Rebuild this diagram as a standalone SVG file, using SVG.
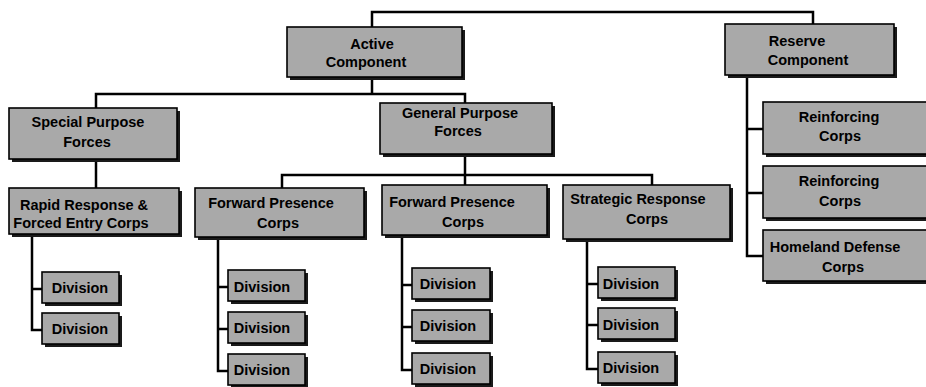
<svg xmlns="http://www.w3.org/2000/svg" width="926" height="387" viewBox="0 0 926 387">
<style>
.sh{fill:#1a1a1a}
.bx{fill:#a9a9a9;stroke:#000;stroke-width:1.6}
.t{font-family:"Liberation Sans",Arial,sans-serif;font-weight:bold;font-size:14.5px;fill:#000;text-anchor:middle}
.c{fill:none;stroke:#000;stroke-width:2.5;stroke-linecap:square}
</style>
<rect width="926" height="387" fill="#fff"/>
<g id="connectors" class="c">
<path d="M372,27V12H813V24"/>
<path d="M372,80V94M96,94H465M96,94V108M465,94V103"/>
<path d="M96,162V188"/>
<path d="M465,157V175M282,175H652M282,175V188M465,175V185M652,175V185"/>
<path d="M747,78V256M747,129H763M747,193H763M747,256H763"/>
<path d="M32,237V330M32,289H42M32,330H42"/>
<path d="M218,240V371M218,287H228M218,329H228M218,371H228"/>
<path d="M402,238V370M402,285H412M402,327H412M402,370H412"/>
<path d="M587,242V369M587,284H598M587,325H598M587,369H598"/>
</g>
<g id="active">
<rect class="sh" x="290" y="30" width="175" height="50"/>
<rect class="bx" x="287" y="27" width="175" height="50"/>
<text class="t" x="372" y="49">Active</text>
<text class="t" x="366" y="67">Component</text>
</g>
<g id="reserve">
<rect class="sh" x="728" y="27" width="169" height="51"/>
<rect class="bx" x="725" y="24" width="169" height="51"/>
<text class="t" x="797" y="46">Reserve</text>
<text class="t" x="808" y="65">Component</text>
</g>
<g id="special">
<rect class="sh" x="12" y="111" width="168" height="51"/>
<rect class="bx" x="9" y="108" width="168" height="51"/>
<text class="t" x="88" y="127">Special Purpose</text>
<text class="t" x="87" y="147">Forces</text>
</g>
<g id="general">
<rect class="sh" x="383" y="106" width="172" height="51"/>
<rect class="bx" x="380" y="103" width="172" height="51"/>
<text class="t" x="460" y="118">General Purpose</text>
<text class="t" x="458" y="136">Forces</text>
</g>
<g id="rapid">
<rect class="sh" x="12" y="191" width="170" height="46"/>
<rect class="bx" x="9" y="188" width="170" height="46"/>
<text class="t" x="84" y="210">Rapid Response &amp;</text>
<text class="t" x="81" y="228">Forced Entry Corps</text>
</g>
<g id="fp1">
<rect class="sh" x="198" y="191" width="169" height="49"/>
<rect class="bx" x="195" y="188" width="169" height="49"/>
<text class="t" x="271" y="208">Forward Presence</text>
<text class="t" x="278" y="228">Corps</text>
</g>
<g id="fp2">
<rect class="sh" x="385" y="188" width="165" height="50"/>
<rect class="bx" x="382" y="185" width="165" height="50"/>
<text class="t" x="452" y="207">Forward Presence</text>
<text class="t" x="463" y="227">Corps</text>
</g>
<g id="sr">
<rect class="sh" x="566" y="188" width="167" height="54"/>
<rect class="bx" x="563" y="185" width="167" height="54"/>
<text class="t" x="638" y="204">Strategic Response</text>
<text class="t" x="647" y="224">Corps</text>
</g>
<g id="r1">
<rect class="sh" x="766" y="105" width="170" height="52"/>
<rect class="bx" x="763" y="102" width="170" height="52"/>
<text class="t" x="839" y="122">Reinforcing</text>
<text class="t" x="840" y="141">Corps</text>
</g>
<g id="r2">
<rect class="sh" x="766" y="169" width="170" height="52"/>
<rect class="bx" x="763" y="166" width="170" height="52"/>
<text class="t" x="839" y="186">Reinforcing</text>
<text class="t" x="840" y="206">Corps</text>
</g>
<g id="hd">
<rect class="sh" x="766" y="233" width="170" height="51"/>
<rect class="bx" x="763" y="230" width="170" height="51"/>
<text class="t" x="835" y="252">Homeland Defense</text>
<text class="t" x="843" y="272">Corps</text>
</g>
<g id="d1"><rect class="sh" x="45" y="275" width="77" height="31"/><rect class="bx" x="42" y="272" width="77" height="31"/><text class="t" x="80" y="293">Division</text></g>
<g id="d2"><rect class="sh" x="45" y="316" width="77" height="31"/><rect class="bx" x="42" y="313" width="77" height="31"/><text class="t" x="80" y="334">Division</text></g>
<g id="d3"><rect class="sh" x="231" y="273" width="77" height="31"/><rect class="bx" x="228" y="270" width="77" height="31"/><text class="t" x="262" y="292">Division</text></g>
<g id="d4"><rect class="sh" x="231" y="315" width="77" height="31"/><rect class="bx" x="228" y="312" width="77" height="31"/><text class="t" x="262" y="333">Division</text></g>
<g id="d5"><rect class="sh" x="231" y="357" width="77" height="31"/><rect class="bx" x="228" y="354" width="77" height="31"/><text class="t" x="262" y="375">Division</text></g>
<g id="d6"><rect class="sh" x="415" y="271" width="78" height="31"/><rect class="bx" x="412" y="268" width="78" height="31"/><text class="t" x="448" y="289">Division</text></g>
<g id="d7"><rect class="sh" x="415" y="313" width="78" height="31"/><rect class="bx" x="412" y="310" width="78" height="31"/><text class="t" x="448" y="331">Division</text></g>
<g id="d8"><rect class="sh" x="415" y="356" width="78" height="31"/><rect class="bx" x="412" y="353" width="78" height="31"/><text class="t" x="448" y="374">Division</text></g>
<g id="d9"><rect class="sh" x="601" y="270" width="77" height="31"/><rect class="bx" x="598" y="267" width="77" height="31"/><text class="t" x="631" y="289">Division</text></g>
<g id="d10"><rect class="sh" x="601" y="311" width="77" height="31"/><rect class="bx" x="598" y="308" width="77" height="31"/><text class="t" x="631" y="330">Division</text></g>
<g id="d11"><rect class="sh" x="601" y="355" width="77" height="31"/><rect class="bx" x="598" y="352" width="77" height="31"/><text class="t" x="631" y="373">Division</text></g>
</svg>
